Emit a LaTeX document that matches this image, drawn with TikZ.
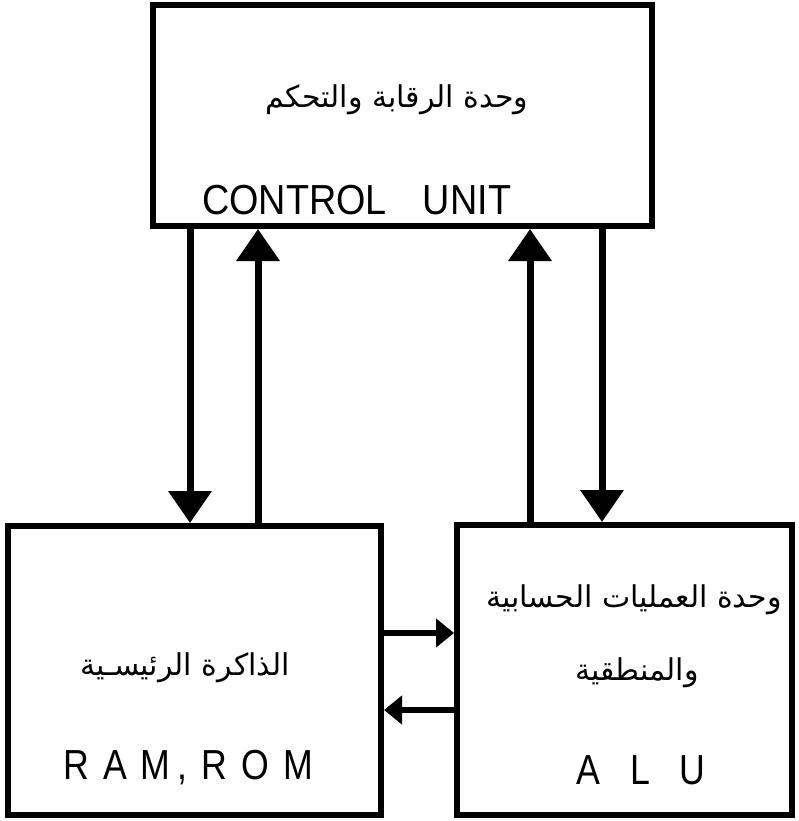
\documentclass[tikz,border=0pt]{standalone}
\usepackage{fontspec}
\setmainfont{Liberation Sans}
\newfontfamily\arabicfont[Script=Arabic]{DejaVu Sans}
\newfontfamily\latinfont[FakeStretch=0.85]{Liberation Sans}
\newfontfamily\widefont[FakeStretch=0.9]{Liberation Sans}
\TeXXeTstate=1
\usetikzlibrary{arrows.meta,positioning,calc}

\begin{document}
\begin{tikzpicture}[x=1pt,y=-1pt,
    unitbox/.style={draw, line width=6pt, inner sep=0pt},
    arabtxt/.style={font=\arabicfont\fontsize{30}{36}\selectfont, inner sep=0pt},
    lattxt/.style={font=\latinfont\fontsize{42}{48}\selectfont, inner sep=0pt},
    bus/.style={line width=7pt, -{Triangle[length=32pt,width=42pt]}},
    link/.style={line width=6pt, -{Triangle[length=18pt,width=28pt]}}]
    \useasboundingbox (0,0) rectangle (798,821);

    % Units
    \node[unitbox, minimum width=499pt, minimum height=221pt] (cu) at (402.5,115.5) {};
    \node[unitbox, minimum width=373pt, minimum height=289pt] (mem) at (194.5,670.5) {};
    \node[unitbox, minimum width=335pt, minimum height=290pt] (alu) at (624.5,670) {};

    % Labels
    \node[arabtxt] (cuar) at (397,100) {\beginR وحدة الرقابة والتحكم\endR};
    \node[lattxt, font=\widefont\fontsize{42}{48}\selectfont, anchor=west] (cuen) at (202,200) {CONTROL\hspace{36pt}UNIT};
    \node[arabtxt] (memar) at (185,668) {\beginR الذاكرة الرئيسـية\endR};
    \node[lattxt] (memen) at (188,768) {R\,\,A\,\,M\,,\,\,R\,\,O\,\,M};
    \node[arabtxt] (aluar) at (634,600) {\beginR وحدة العمليات الحسابية\endR};
    \node[arabtxt] (aluarb) at (637,673) {\beginR والمنطقية\endR};
    \node[lattxt] (aluen) at (641,770) {A\ \ \ L\ \ \ U};

    % Buses
    \coordinate (c1) at (190,0);
    \coordinate (c2) at (258,0);
    \coordinate (c3) at (530,0);
    \coordinate (c4) at (602,0);
    \draw[bus] (c1 |- cu.south) -- (c1 |- mem.north);
    \draw[bus] (c2 |- mem.north) -- (c2 |- cu.south);
    \draw[bus] (c3 |- alu.north) -- (c3 |- cu.south);
    \draw[bus] (c4 |- cu.south) -- (c4 |- alu.north);

    % Memory <-> ALU
    \coordinate (h1) at (0,633);
    \coordinate (h2) at (0,710);
    \draw[link] (h1 -| mem.east) -- (h1 -| alu.west);
    \draw[link] (h2 -| alu.west) -- (h2 -| mem.east);
\end{tikzpicture}
\end{document}
